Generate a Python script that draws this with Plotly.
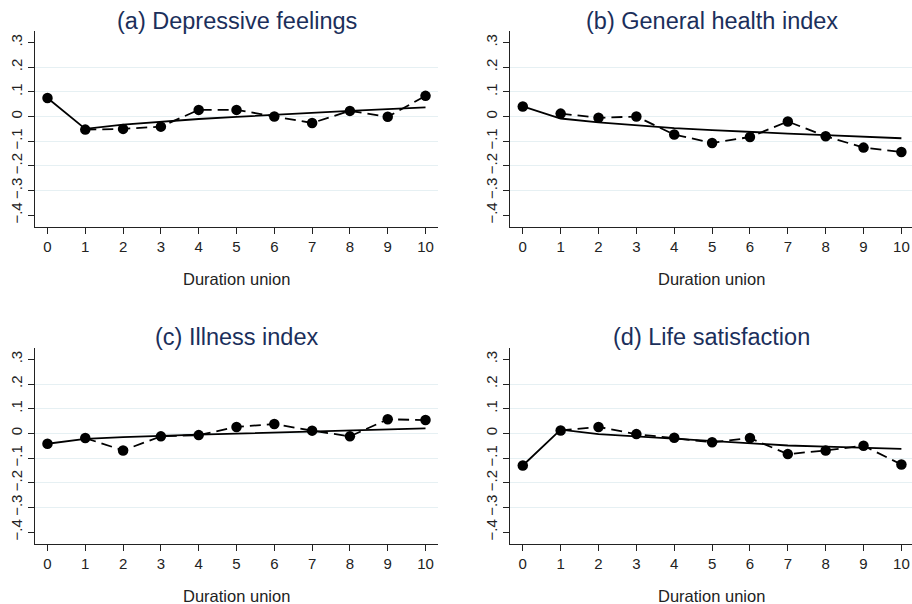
import plotly.graph_objects as go

duration = list(range(11))

titles = ["(a) Depressive feelings", "(b) General health index",
          "(c) Illness index", "(d) Life satisfaction"]

est_a = [0.075, -0.053, -0.050, -0.041, 0.027, 0.027, 0.000, -0.026, 0.023, -0.001, 0.084]
fit_a = [0.075, -0.050, -0.033, -0.021, -0.010, -0.001, 0.008, 0.016, 0.023, 0.030, 0.037]

est_b = [0.041, 0.012, -0.005, 0.000, -0.073, -0.107, -0.083, -0.020, -0.080, -0.126, -0.144]
fit_b = [0.041, -0.008, -0.024, -0.037, -0.047, -0.055, -0.063, -0.069, -0.075, -0.081, -0.088]

est_c = [-0.042, -0.019, -0.069, -0.012, -0.007, 0.026, 0.038, 0.011, -0.012, 0.057, 0.054]
fit_c = [-0.042, -0.022, -0.015, -0.009, -0.005, -0.001, 0.003, 0.007, 0.011, 0.015, 0.020]

est_d = [-0.130, 0.012, 0.026, -0.003, -0.018, -0.036, -0.019, -0.084, -0.069, -0.050, -0.126]
fit_d = [-0.130, 0.015, -0.003, -0.012, -0.022, -0.032, -0.040, -0.049, -0.054, -0.058, -0.063]

ytick_vals = [-0.4, -0.3, -0.2, -0.1, 0.0, 0.1, 0.2, 0.3]
ytick_text = ["\u2212.4", "\u2212.3", "\u2212.2", "\u2212.1", "0", ".1", ".2", ".3"]
grid_vals = [-0.3, -0.2, -0.1, 0.0, 0.1, 0.2]
xtick_vals = duration
xtick_text = [str(v) for v in duration]
x_title = "Duration union"

series = [(est_a, fit_a), (est_b, fit_b), (est_c, fit_c), (est_d, fit_d)]

W, H = 912, 604
# pixel boxes of each plot area: (left, right, top, bottom)
boxes = [(35, 438, 31, 227), (510.3, 912, 31, 227),
         (35, 438, 347.7, 544), (510.3, 912, 347.7, 544)]
title_y = [21, 21, 337, 337]
xtitle_y = [279, 279, 596, 596]
xranges = [[-0.33, 10.33], [-0.33, 10.28], [-0.33, 10.33], [-0.33, 10.28]]

fig = go.Figure()
axis_col = "#222222"
font_family = "Liberation Sans, Arial, sans-serif"

for i, ((est, fit), box) in enumerate(zip(series, boxes)):
    n = "" if i == 0 else str(i + 1)
    xa, ya = "x" + n, "y" + n
    # fitted solid line (starts at the first estimate)
    fig.add_trace(go.Scatter(x=duration, y=fit, mode="lines",
                             line=dict(color="black", width=1.8),
                             xaxis=xa, yaxis=ya, showlegend=False, hoverinfo="skip"))
    # dashed estimate line from 1 onward
    fig.add_trace(go.Scatter(x=duration[1:], y=est[1:], mode="lines",
                             line=dict(color="black", width=1.8, dash="11px,6px"),
                             xaxis=xa, yaxis=ya, showlegend=False))
    # markers
    fig.add_trace(go.Scatter(x=duration, y=est, mode="markers",
                             marker=dict(color="black", size=10.5),
                             xaxis=xa, yaxis=ya, showlegend=False))
    l, r, t, b = box
    xd = [l / W, r / W]
    yd = [1 - b / H, 1 - t / H]
    fig.update_layout(**{
        "xaxis" + n: dict(domain=xd, range=xranges[i], anchor=ya, automargin=False,
                          tickmode="array", tickvals=xtick_vals, ticktext=xtick_text,
                          showgrid=False, zeroline=False, showline=True,
                          linecolor=axis_col, linewidth=1.3,
                          ticks="outside", ticklen=6, tickcolor=axis_col, tickwidth=1.2,
                          tickfont=dict(size=15, color="#222222", family=font_family)),
        "yaxis" + n: dict(domain=yd, range=[-0.448, 0.347], anchor=xa, automargin=False,
                          tickmode="array", tickvals=ytick_vals, ticktext=ytick_text,
                          tickangle=-90,
                          showgrid=False, zeroline=False, showline=True,
                          linecolor=axis_col, linewidth=1.3,
                          ticks="outside", ticklen=6, tickcolor=axis_col, tickwidth=1.2,
                          tickfont=dict(size=15, color="#222222", family=font_family),
                          minor=dict(tickmode="array", tickvals=grid_vals, showgrid=True,
                                     gridcolor="#e6f0f3", gridwidth=1.2, ticks="")),
    })
    fig.add_annotation(text=titles[i], xref="paper", yref="paper",
                       x=(l + l + 403) / 2 / W, y=1 - title_y[i] / H,
                       xanchor="center", yanchor="middle", showarrow=False,
                       font=dict(size=23.5, color="#1b2f5b", family=font_family))
    fig.add_annotation(text=x_title, xref="paper", yref="paper",
                       x=(l + l + 403) / 2 / W, y=1 - xtitle_y[i] / H,
                       xanchor="center", yanchor="middle", showarrow=False,
                       font=dict(size=16.5, color="#222222", family=font_family))

fig.update_layout(width=W, height=H, margin=dict(l=0, r=0, t=0, b=0),
                  plot_bgcolor="white", paper_bgcolor="white")

fig.write_html("out.html", config={"displayModeBar": False},
               post_script="document.body.style.margin='0';document.body.style.padding='0';")
